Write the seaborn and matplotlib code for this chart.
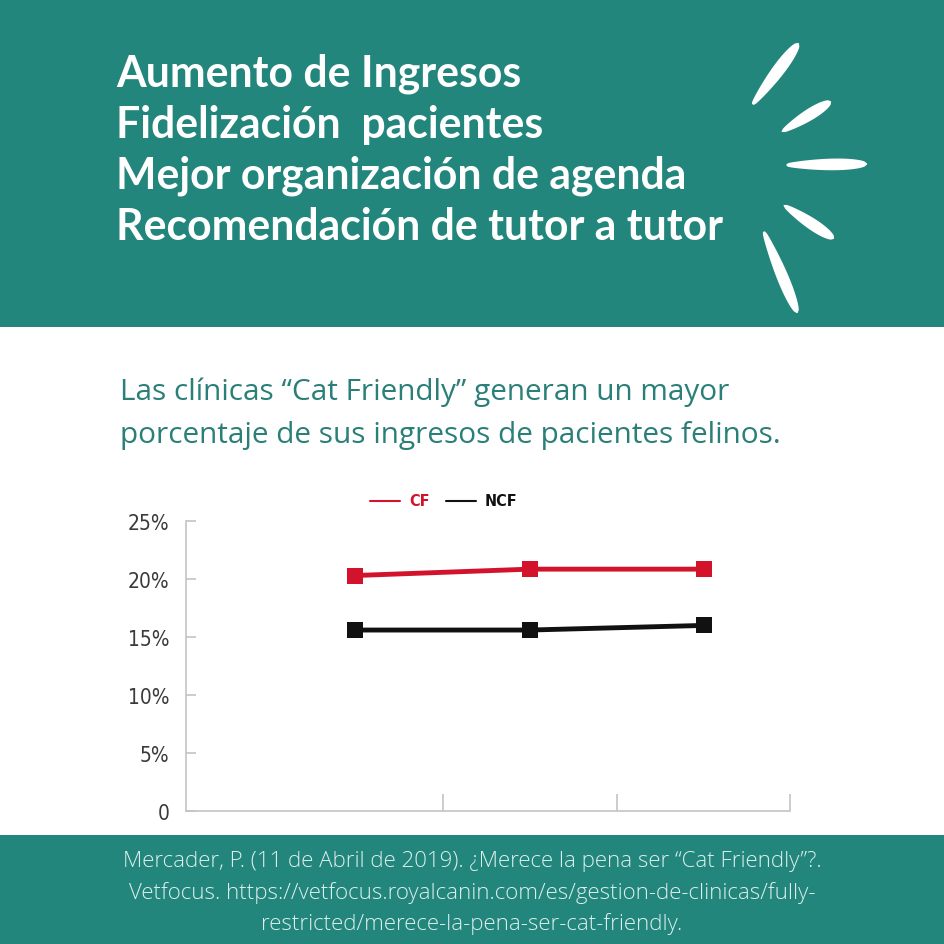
import numpy as np
import pandas as pd
import matplotlib
matplotlib.use("Agg")
import matplotlib.pyplot as plt
from matplotlib.patches import Rectangle, Polygon
from matplotlib.lines import Line2D
import seaborn as sns

# ---- data ----
periods = [0, 1, 2]
series_names = ["CF", "NCF"]
cf_values = [20.3, 20.85, 20.85]
ncf_values = [15.6, 15.6, 16.0]
y_ticks = [0, 5, 10, 15, 20, 25]
y_tick_labels = ["0", "5%", "10%", "15%", "20%", "25%"]
header_lines = ["Aumento de Ingresos", "Fidelización  pacientes",
                "Mejor organización de agenda", "Recomendación de tutor a tutor"]
subtitle_lines = ["Las clínicas \u201cCat Friendly\u201d generan un mayor",
                  "porcentaje de sus ingresos de pacientes felinos."]
footer_lines = ["Mercader, P. (11 de Abril de 2019). ¿Merece la pena ser \u201cCat Friendly\u201d?.",
                "Vetfocus. https://vetfocus.royalcanin.com/es/gestion-de-clinicas/fully-",
                "restricted/merece-la-pena-ser-cat-friendly."]

df = pd.DataFrame({
    "period": periods * 2,
    "value": cf_values + ncf_values,
    "series": [series_names[0]] * 3 + [series_names[1]] * 3,
})

TEAL = "#23867d"
RED = "#d3132c"
BLACK = "#111111"

sns.set_theme(style="white")
plt.rcParams["font.family"] = ["Open Sans", "DejaVu Sans"]

W = H = 945
fig = plt.figure(figsize=(9.45, 9.45), dpi=100)
fig.patch.set_facecolor("white")

def fx(px):
    return px / W

def fy(py):
    return 1 - py / H

# bands
fig.patches.append(Rectangle((0, fy(328)), 1, 328 / H, transform=fig.transFigure,
                             facecolor=TEAL, edgecolor="none", zorder=0))
fig.patches.append(Rectangle((0, 0), 1, (H - 836) / H, transform=fig.transFigure,
                             facecolor=TEAL, edgecolor="none", zorder=0))

# decorative rays (teardrops)
rays = [((753, 105), (798, 45), 13),
        ((783, 132), (830, 103), 12),
        ((787, 166), (866, 165), 12),
        ((785, 207), (833, 239), 12),
        ((764, 233), (797, 313), 12)]
for (x0, y0), (x1, y1), wmax in rays:
    t = np.linspace(0, 1, 40)
    p0 = np.array([x0, y0], float)
    p1 = np.array([x1, y1], float)
    d = p1 - p0
    L = np.hypot(*d)
    n = np.array([-d[1], d[0]]) / L
    half = wmax / 2 * np.sqrt(np.clip(np.sin(np.pi * t), 0, 1)) * (0.55 + 0.45 * t)
    pts_a = p0 + np.outer(t, d) + np.outer(half, n)
    pts_b = p0 + np.outer(t, d) - np.outer(half, n)
    pts = np.vstack([pts_a, pts_b[::-1]])
    pts_fig = np.column_stack([pts[:, 0] / W, 1 - pts[:, 1] / H])
    fig.patches.append(Polygon(pts_fig, closed=True, transform=fig.transFigure,
                               facecolor="white", edgecolor="white", lw=1.5, zorder=1))

# header
for i, line in enumerate(header_lines):
    fig.text(fx(116), fy(74 + i * 51), line, color="white", fontsize=30.8,
             fontweight="bold", family=["Lato", "DejaVu Sans"], va="center", ha="left")

# subtitle
for i, line in enumerate(subtitle_lines):
    fig.text(fx(120), fy(392 + i * 44), line, color="#2a7f78", fontsize=21.4,
             family=["Open Sans", "DejaVu Sans"], va="center", ha="left")

# footer
for i, line in enumerate(footer_lines):
    fig.text(fx(472), fy(862 + i * 31), line, color="#dcefec", fontsize=16,
             fontweight="light", family=["Open Sans", "DejaVu Sans"],
             va="center", ha="center")

COND = ["DejaVu Sans"]

# chart
ax = fig.add_axes([fx(186), fy(812), fx(790) - fx(186), (812 - 522) / H])
ax.set_facecolor("none")
sns.lineplot(data=df, x="period", y="value", hue="series",
             palette={"CF": RED, "NCF": BLACK}, marker="s", markersize=11,
             markeredgewidth=0, linewidth=3.5, ax=ax, legend=False)
ax.set_xlim(-0.97, 2.49)
ax.set_ylim(0, 25)
ax.set_xticks([0.5, 1.5, 2.49])
ax.set_xticklabels([])
ax.set_yticks(y_ticks)
ax.set_yticklabels(y_tick_labels)
ax.set_xlabel("")
ax.set_ylabel("")
for s in ["top", "right"]:
    ax.spines[s].set_visible(False)
for s in ["left", "bottom"]:
    ax.spines[s].set_color("#c4c4c4")
    ax.spines[s].set_linewidth(1.2)
ax.tick_params(axis="x", direction="in", length=12, width=1.2, color="#c4c4c4",
               bottom=True)
ax.tick_params(axis="y", direction="in", length=7, width=1.2, color="#c4c4c4",
               left=True, pad=12, labelsize=15, labelcolor="#3a3a3a")
for lab in ax.get_yticklabels():
    lab.set_family(COND)
    lab.set_fontstretch("condensed")

# legend (manual)
fig.lines.append(Line2D([fx(370), fx(400)], [fy(502), fy(502)], color=RED, lw=1.5,
                        transform=fig.transFigure))
fig.text(fx(409), fy(502), "CF", color=RED, fontsize=11.5, fontweight="bold",
         family=COND, fontstretch="condensed", va="center", ha="left")
fig.lines.append(Line2D([fx(446), fx(476)], [fy(502), fy(502)], color=BLACK, lw=1.5,
                        transform=fig.transFigure))
fig.text(fx(485), fy(502), "NCF", color=BLACK, fontsize=11.5, fontweight="bold",
         family=COND, fontstretch="condensed", va="center", ha="left")

fig.savefig("out.png", dpi=100, facecolor=fig.get_facecolor())
